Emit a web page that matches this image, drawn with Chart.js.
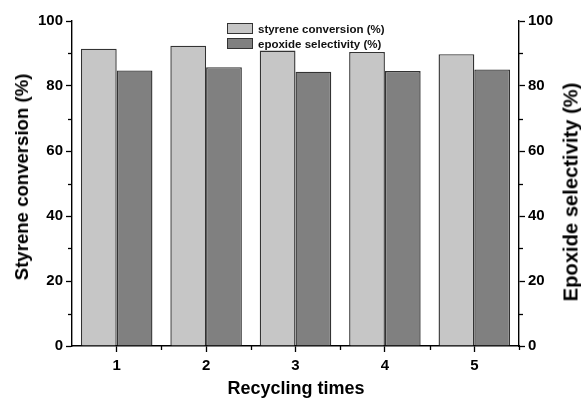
<!DOCTYPE html>
<html>
<head>
<meta charset="utf-8">
<script src="https://cdn.jsdelivr.net/npm/chart.js@4/dist/chart.umd.min.js"></script>
<style>
  body { margin: 0; background: #fff; }
  #wrap { position: relative; width: 581px; height: 401px; font-family: "Liberation Sans", Arial, sans-serif; }
  #legend { position: absolute; left: 227px; top: 21px; font-weight: bold; font-size: 11.5px; color: #111; }
  #legend div { height: 15px; display: flex; align-items: center; }
  #legend span.box { display: inline-block; width: 24px; height: 9px; border: 1px solid #333; margin-right: 5px; }
  .title { position: absolute; font-weight: bold; font-size: 18px; color: #000; white-space: nowrap; }
  .vert { transform: translate(-50%, -50%) rotate(-90deg); }
</style>
</head>
<body>
<div id="wrap">
  <canvas id="myChart" width="581" height="401"></canvas>
  <div id="legend"></div>
  <div class="title vert" style="left:22px; top:177px; font-size:18.6px;">Styrene conversion (%)</div>
  <div class="title vert" style="left:571px; top:192px; font-size:20.2px;">Epoxide selectivity (%)</div>
  <div class="title" style="left:296px; top:388px; transform: translate(-50%, -50%);">Recycling times</div>
</div>
<script>
const categories = ['1', '2', '3', '4', '5'];
const conversion = [91.5, 92.4, 90.9, 90.5, 89.8];
const selectivity = [84.8, 85.8, 84.4, 84.6, 85.1];
const seriesNames = ['styrene conversion (%)', 'epoxide selectivity (%)'];
const seriesColors = ['#c6c6c6', '#808080'];

const font = "'Liberation Sans', Arial, sans-serif";

// legend as plain html
const legend = document.getElementById('legend');
seriesNames.forEach((name, i) => {
  const row = document.createElement('div');
  row.innerHTML = '<span class="box" style="background:' + seriesColors[i] + '"></span>' + name;
  legend.appendChild(row);
});

// minor ticks between the major ones
const minorTicks = {
  id: 'minorTicks',
  afterDraw(chart) {
    const ctx = chart.ctx;
    ctx.save();
    ctx.strokeStyle = '#000';
    ctx.lineWidth = 1.3;
    ['y', 'y2'].forEach(id => {
      const s = chart.scales[id];
      const left = id === 'y';
      const x0 = left ? s.right : s.left;
      for (let v = 10; v < 100; v += 20) {
        const py = Math.round(s.getPixelForValue(v)) + 0.5;
        ctx.beginPath();
        ctx.moveTo(x0, py);
        ctx.lineTo(left ? x0 - 4 : x0 + 4, py);
        ctx.stroke();
      }
    });
    const xs = chart.scales.x;
    const half = (xs.getPixelForValue(1) - xs.getPixelForValue(0)) / 2;
    for (let i = 0; i < categories.length; i++) {
      const px = Math.round(xs.getPixelForValue(i) + half) + 0.5;
      ctx.beginPath();
      ctx.moveTo(px, xs.top);
      ctx.lineTo(px, xs.top + 4);
      ctx.stroke();
    }
    ctx.restore();
  }
};

const tickFont = { family: font, size: 15, weight: 'bold' };

var ctx = document.getElementById('myChart');

var myChart = new Chart(ctx, {
  type: 'bar',
  data: {
    labels: categories,
    datasets: [{
      label: seriesNames[0],
      data: conversion,
      backgroundColor: seriesColors[0],
      borderColor: '#333',
      borderWidth: 1.4,
      yAxisID: 'y'
    }, {
      label: seriesNames[1],
      data: selectivity,
      backgroundColor: seriesColors[1],
      borderColor: '#333',
      borderWidth: 1.4,
      yAxisID: 'y'
    }]
  },
  options: {
    responsive: false,
    animation: false,
    layout: { padding: { top: 21, left: 0, right: 0, bottom: 0 } },
    datasets: { bar: { barPercentage: 1, categoryPercentage: 0.8 } },
    plugins: {
      legend: { display: false },
      tooltip: { enabled: false }
    },
    scales: {
      x: {
        grid: { drawOnChartArea: false, tickLength: 6, tickColor: '#000', tickWidth: 1.3, offset: false },
        border: { color: '#000', width: 1.4 },
        ticks: { font: tickFont, color: '#000', padding: 5 },
        afterFit: s => { s.height = 55; }
      },
      y: {
        position: 'left',
        min: 0, max: 100,
        grid: { drawOnChartArea: false, tickLength: 6, tickColor: '#000', tickWidth: 1.3 },
        border: { color: '#000', width: 1.4 },
        ticks: { stepSize: 20, font: tickFont, color: '#000', padding: 3 },
        afterFit: s => { s.width = 72; }
      },
      y2: {
        position: 'right',
        min: 0, max: 100,
        grid: { drawOnChartArea: false, tickLength: 6, tickColor: '#000', tickWidth: 1.3 },
        border: { color: '#000', width: 1.4 },
        ticks: { stepSize: 20, font: tickFont, color: '#000', padding: 3 },
        afterFit: s => { s.width = 62; }
      }
    }
  },
  plugins: [minorTicks]
});
</script>
</body>
</html>
